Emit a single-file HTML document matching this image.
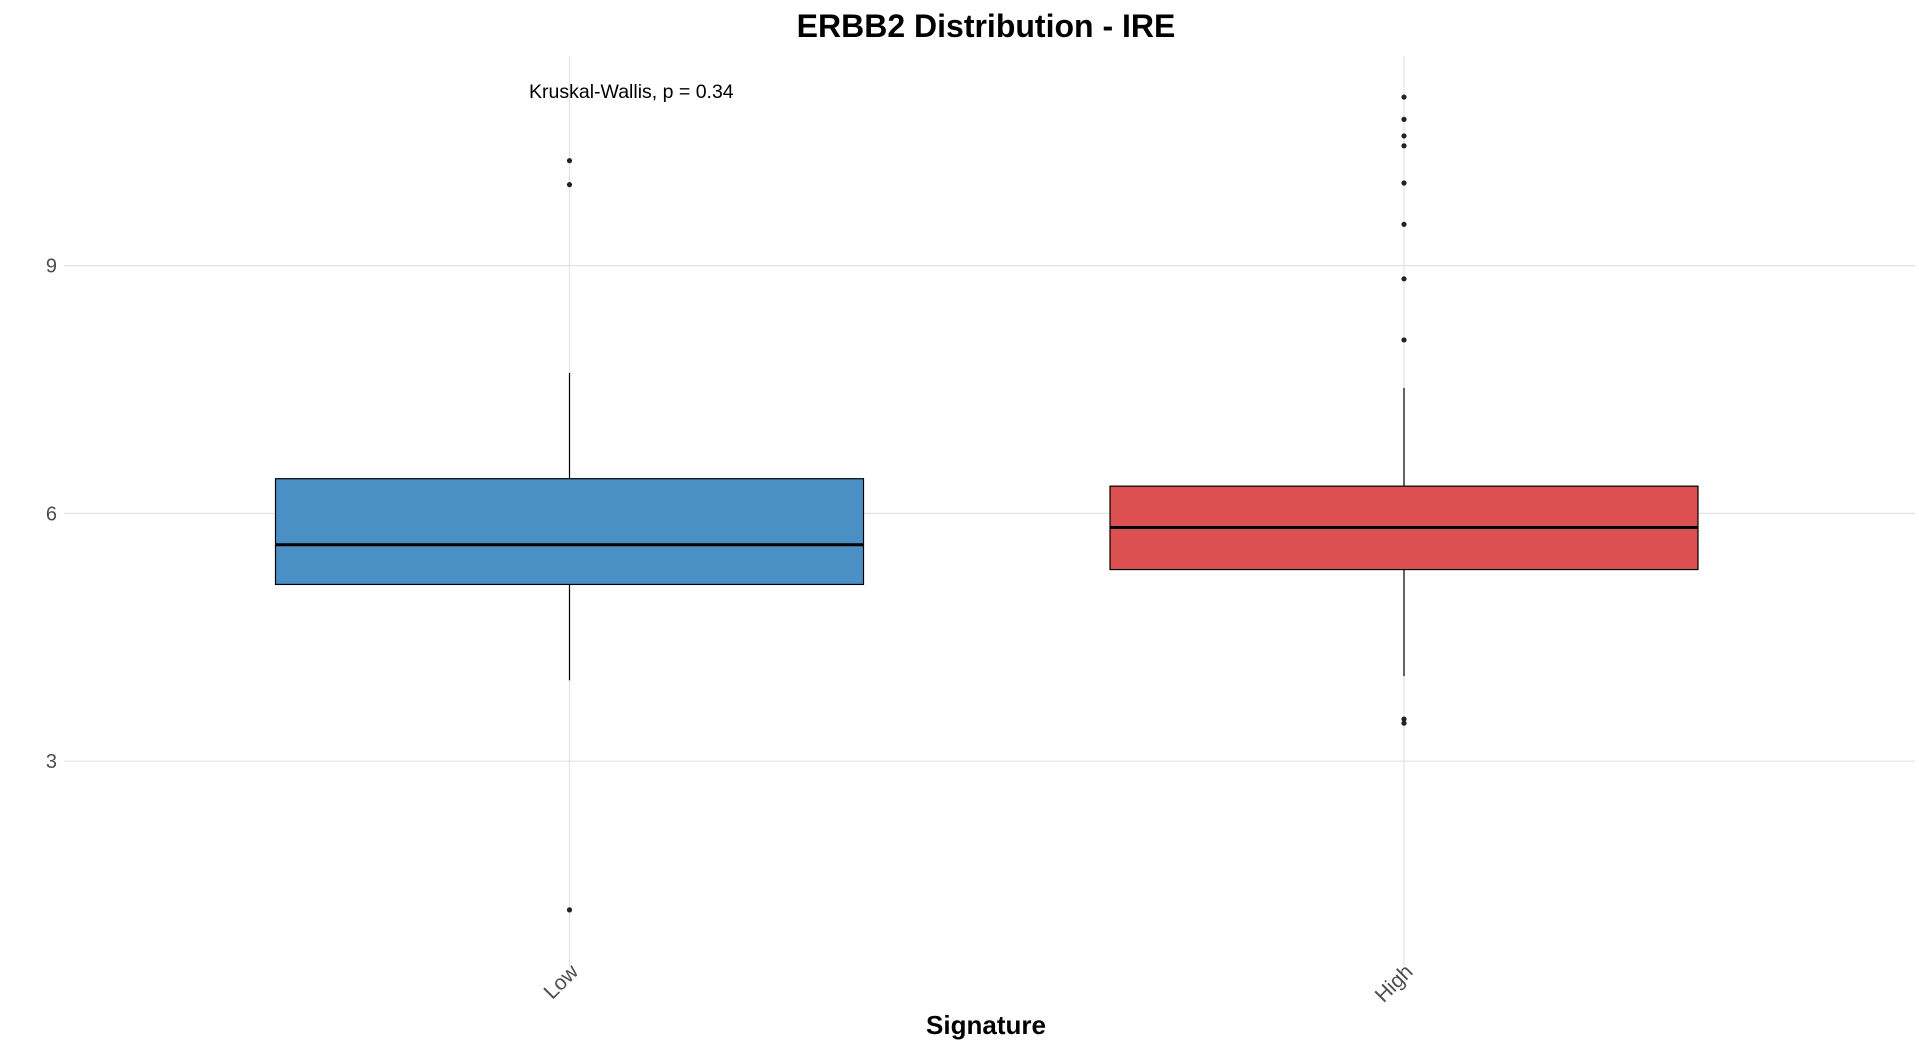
<!DOCTYPE html>
<html><head><meta charset="utf-8"><style>
html,body{margin:0;padding:0;background:#fff;}
svg{display:block;font-family:"Liberation Sans",sans-serif;}
</style></head><body>
<svg id="chart" width="1919" height="1051" viewBox="0 0 1919 1051">
<text x="986" y="37" text-anchor="middle" font-size="32" font-weight="bold" fill="#000">ERBB2 Distribution - IRE</text>
<g id="grid"></g>
<g id="marks"></g>
<text x="529" y="98" font-size="19.5" fill="#000">Kruskal-Wallis, p = 0.34</text>
<text x="986" y="1034" text-anchor="middle" font-size="26" font-weight="bold" fill="#000">Signature</text>
</svg>
<script>
const categories = ["Low", "High"];
const q1 = [5.14, 5.32];
const medians = [5.62, 5.83];
const q3 = [6.42, 6.33];
const whiskerLow = [3.98, 4.03];
const whiskerHigh = [7.70, 7.52];
const outliersLow = [10.27, 9.98, 1.20];
const outliersHigh = [11.04, 10.77, 10.57, 10.45, 10.0, 9.50, 8.84, 8.10, 3.51, 3.46];
const yTicks = [3, 6, 9];
const fills = ["#4a90c4", "#dd5052"];

const NS = "http://www.w3.org/2000/svg";
const y = v => 1009 - v * 82.6;
const xCenters = [569.5, 1404];
const x = i => xCenters[i];
const boxHalf = 294;
const grid = document.getElementById('grid');
const marks = document.getElementById('marks');
const svg = document.getElementById('chart');
function mk(tag, attrs, parent){const e=document.createElementNS(NS,tag);for(const k in attrs)e.setAttribute(k,attrs[k]);parent.appendChild(e);return e;}

yTicks.forEach(t=>{
  const l = mk('line',{x1:64,x2:1915,y1:y(t),y2:y(t),stroke:'#e3e3e3','stroke-width':1.2},grid);
  
  
  const tx = mk('text',{x:57,y:y(t)+7,'text-anchor':'end','font-size':20,fill:'#4d4d4d'},svg);
  tx.textContent = t;
  
  
});
categories.forEach((c,i)=>{
  const l = mk('line',{x1:x(i),x2:x(i),y1:56,y2:966,stroke:'#e3e3e3','stroke-width':1.2},grid);
  
  
  const tx = mk('text',{x:x(i)+10,y:973,'text-anchor':'end','font-size':21,fill:'#4d4d4d',transform:'rotate(-45 '+(x(i)+10)+' 973)'},svg);
  tx.textContent = c;
  
  
});
const outs = [outliersLow, outliersHigh];
categories.forEach((c,i)=>{
  const n = c.toLowerCase();
  const w1 = mk('line',{x1:x(i),x2:x(i),y1:y(whiskerHigh[i]),y2:y(q3[i]),stroke:'#000','stroke-width':1.2},marks);
  
  
  const w2 = mk('line',{x1:x(i),x2:x(i),y1:y(q1[i]),y2:y(whiskerLow[i]),stroke:'#000','stroke-width':1.2},marks);
  
  
  const b = mk('rect',{x:x(i)-boxHalf,y:y(q3[i]),width:boxHalf*2,height:y(q1[i])-y(q3[i]),fill:fills[i],stroke:'#000','stroke-width':1.2},marks);
  
  
  const m = mk('line',{x1:x(i)-boxHalf,x2:x(i)+boxHalf,y1:y(medians[i]),y2:y(medians[i]),stroke:'#000','stroke-width':3},marks);
  
  
  outs[i].forEach((v,j)=>{
    const p = mk('circle',{cx:x(i),cy:y(v),r:2.6,fill:'#222'},marks);
    
    
  });
});
</script>
</body></html>
